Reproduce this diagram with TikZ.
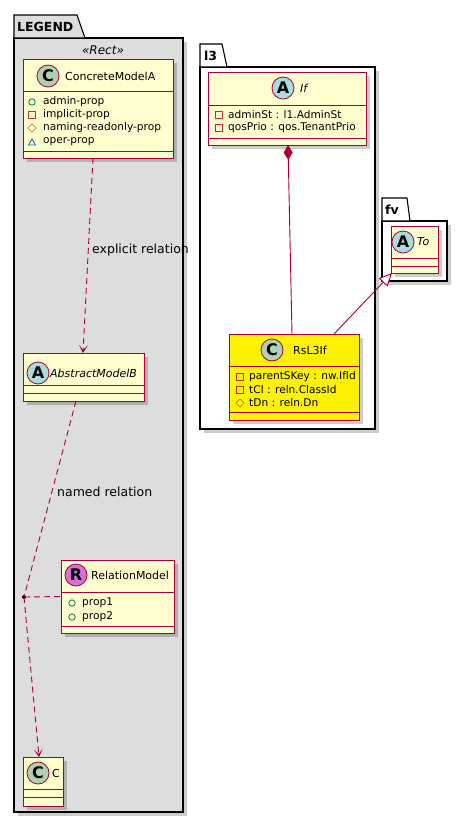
\documentclass[tikz,border=0pt]{standalone}
\usepackage{fontspec}
\setmainfont{DejaVu Sans}
\usetikzlibrary{arrows.meta,shadows,calc,shapes.geometric}
\definecolor{bord}{HTML}{A80036}
\definecolor{cfill}{HTML}{FEFECE}
\definecolor{spotC}{HTML}{ADD1B2}
\definecolor{spotA}{HTML}{A9DCDF}
\definecolor{spotR}{HTML}{DA70D6}
\definecolor{legfill}{HTML}{DDDDDD}
\definecolor{pubc}{HTML}{038048}
\definecolor{privc}{HTML}{C82930}
\definecolor{protc}{HTML}{B38D22}
\definecolor{pkgc}{HTML}{1963A0}
\tikzset{
  shad/.style={drop shadow={shadow xshift=4pt, shadow yshift=-4pt, opacity=0.2, fill=black}},
  classbox/.style={draw=bord, fill=cfill, line width=0.9pt, inner sep=0pt, outer sep=0pt, shad},
  sepline/.style={draw=bord, line width=0.9pt},
  spot/.style={circle, draw=bord, line width=0.8pt, minimum size=22pt, inner sep=0pt, font=\bfseries\fontsize{16}{16}\selectfont},
  cname/.style={anchor=west, inner sep=0pt, font=\fontsize{11}{13}\selectfont},
  member/.style={anchor=west, inner sep=0pt, font=\fontsize{10.6}{13}\selectfont},
  lbl/.style={anchor=west, inner sep=0pt, font=\fontsize{12.5}{14}\selectfont},
  pkgbody/.style={draw=black, line width=1.3pt, inner sep=0pt, outer sep=0pt, shad},
  pkgtab/.style={draw=black, line width=1.1pt},
  tabtext/.style={anchor=west, inner sep=0pt, font=\bfseries\fontsize{12.5}{15}\selectfont},
  conn/.style={draw=bord, line width=0.9pt},
  dep/.style={conn, dash pattern=on 6pt off 4pt, -{Stealth[length=8pt, width=9pt, inset=5pt]}},
  pubi/.style={circle, draw=pubc, line width=0.8pt, minimum size=6.5pt, inner sep=0pt},
  privi/.style={rectangle, draw=privc, line width=0.8pt, minimum size=6.5pt, inner sep=0pt},
  proti/.style={diamond, draw=protc, line width=0.8pt, minimum size=8.5pt, inner sep=0pt},
}
\begin{document}
\begin{tikzpicture}[x=1pt,y=-1pt]
\useasboundingbox (0,0) rectangle (467,824);
\fill[white] (0,0) rectangle (467,824);

% ---------- LEGEND package ----------
\node[pkgbody, fill=legfill, minimum width=169pt, minimum height=774pt] (legend) at (98.5,425) {};
\draw[pkgtab, fill=legfill] (14,38) -- (14,15) -- (77,15) -- (85,38) -- cycle;
\node[tabtext] (legendt) at (17,27) {LEGEND};
\node[inner sep=0pt, font=\itshape\fontsize{12}{14}\selectfont] (stereo) at (103,50) {«Rect»};

% ConcreteModelA
\node[classbox, minimum width=150pt, minimum height=99pt] (cma) at (98,108.5) {};
\draw[sepline] (cma.west |- 0,91) -- (cma.east |- 0,91);
\draw[sepline] (cma.west |- 0,151) -- (cma.east |- 0,151);
\node[spot, fill=spotC] (cmas) at (48,76) {C};
\node[cname] (cman) at (65,76) {ConcreteModelA};
\node[pubi] (cmai1) at (32,102) {};
\node[member] (cmam1) at (43,102) {admin-prop};
\node[privi] (cmai2) at (32,115) {};
\node[member] (cmam2) at (43,115) {implicit-prop};
\node[proti] (cmai3) at (32,128) {};
\node[member] (cmam3) at (43,128) {naming-readonly-prop};
\node[member] (cmam4) at (43,142) {oper-prop};
\draw[pkgc, line width=0.8pt] (28.5,145) -- (35.5,145) -- (32,139) -- cycle;

% AbstractModelB
\node[classbox, minimum width=121pt, minimum height=48pt] (absb) at (83.5,377) {};
\draw[sepline] (absb.west |- 0,385) -- (absb.east |- 0,385);
\draw[sepline] (absb.west |- 0,393) -- (absb.east |- 0,393);
\node[spot, fill=spotA] (absbs) at (38,373) {A};
\node[cname, font=\itshape\fontsize{11}{13}\selectfont] (absbn) at (50,373) {AbstractModelB};

% RelationModel
\node[classbox, minimum width=113pt, minimum height=73pt] (rel) at (117.5,596.5) {};
\draw[sepline] (rel.west |- 0,592) -- (rel.east |- 0,592);
\draw[sepline] (rel.west |- 0,626) -- (rel.east |- 0,626);
\node[spot, fill=spotR] (rels) at (76,575) {R};
\node[cname] (reln) at (91,575) {RelationModel};
\node[pubi] (reli1) at (72,603) {};
\node[member] (relm1) at (82,603) {prop1};
\node[pubi] (reli2) at (72,617) {};
\node[member] (relm2) at (82,617) {prop2};

% C
\node[classbox, minimum width=40pt, minimum height=49pt] (cbox) at (43,781.5) {};
\draw[sepline] (cbox.west |- 0,789) -- (cbox.east |- 0,789);
\draw[sepline] (cbox.west |- 0,797) -- (cbox.east |- 0,797);
\node[spot, fill=spotC] (cboxs) at (38,773) {C};
\node[cname] (cboxn) at (52,773) {C};

% legend connectors
\draw[dep] ([xshift=-5pt]cma.south) -- ([xshift=-0.5pt]absb.north);
\node[lbl] (expl) at (92,250) {explicit relation};
\node[circle, fill=black, inner sep=0pt, minimum size=4pt] (dot) at (24,597) {};
\draw[conn, dash pattern=on 6pt off 4pt] ([xshift=-7.5pt]absb.south) -- (dot.center);
\draw[dep] (dot.center) -- ([xshift=-4pt]cbox.north);
\draw[conn, dash pattern=on 6pt off 4pt] (dot.center) -- (rel.west);
\node[lbl] (named) at (57,492) {named relation};

% ---------- l3 package ----------
\node[pkgbody, fill=white, minimum width=175pt, minimum height=362pt] (l3) at (287.5,248) {};
\draw[pkgtab, fill=white] (200,67) -- (200,44) -- (222,44) -- (227,67) -- cycle;
\node[tabtext] (l3t) at (204,56) {l3};

% If
\node[classbox, minimum width=158pt, minimum height=73pt] (ifb) at (287,108.5) {};
\draw[sepline] (ifb.west |- 0,105) -- (ifb.east |- 0,105);
\draw[sepline] (ifb.west |- 0,138) -- (ifb.east |- 0,138);
\node[spot, fill=spotA] (ifs) at (283,88) {A};
\node[cname, font=\itshape\fontsize{11}{13}\selectfont] (ifn) at (300,88) {If};
\node[privi] (ifi1) at (219,115) {};
\node[member] (ifm1) at (228,115) {adminSt : l1.AdminSt};
\node[privi] (ifi2) at (219,128) {};
\node[member] (ifm2) at (228,128) {qosPrio : qos.TenantPrio};

% RsL3If
\node[classbox, fill=yellow, minimum width=130pt, minimum height=86pt] (rs) at (294,377) {};
\draw[sepline] (rs.west |- 0,366) -- (rs.east |- 0,366);
\draw[sepline] (rs.west |- 0,412) -- (rs.east |- 0,412);
\node[spot, fill=spotC] (rss) at (272,350) {C};
\node[cname] (rsn) at (293,350) {RsL3If};
\node[privi] (rsi1) at (240,377) {};
\node[member] (rsm1) at (249,377) {parentSKey : nw.IfId};
\node[privi] (rsi2) at (240,390) {};
\node[member] (rsm2) at (249,390) {tCl : reln.ClassId};
\node[proti] (rsi3) at (240,403) {};
\node[member] (rsm3) at (249,403) {tDn : reln.Dn};

% composition
\draw[conn, {Diamond[length=15pt, width=9pt, fill=bord]}-] ([xshift=1pt]ifb.south) -- ([xshift=-2pt]rs.north);

% ---------- fv package ----------
\node[pkgbody, fill=white, minimum width=65pt, minimum height=60pt] (fv) at (414.5,251) {};
\draw[pkgtab, fill=white] (382,221) -- (382,198) -- (407,198) -- (410,221) -- cycle;
\node[tabtext] (fvt) at (385,210) {fv};

% To
\node[classbox, minimum width=47pt, minimum height=47pt] (to) at (414.5,249.5) {};
\draw[sepline] (to.west |- 0,258) -- (to.east |- 0,258);
\draw[sepline] (to.west |- 0,266) -- (to.east |- 0,266);
\node[spot, fill=spotA] (tos) at (403,242) {A};
\node[cname, font=\itshape\fontsize{11}{13}\selectfont] (ton) at (417,242) {To};

% generalization
\draw[conn, -{Triangle[open, length=13pt, width=12pt, fill=white]}] ([xshift=40pt]rs.north) -- ([xshift=1pt]to.south west);
\end{tikzpicture}
\end{document}
